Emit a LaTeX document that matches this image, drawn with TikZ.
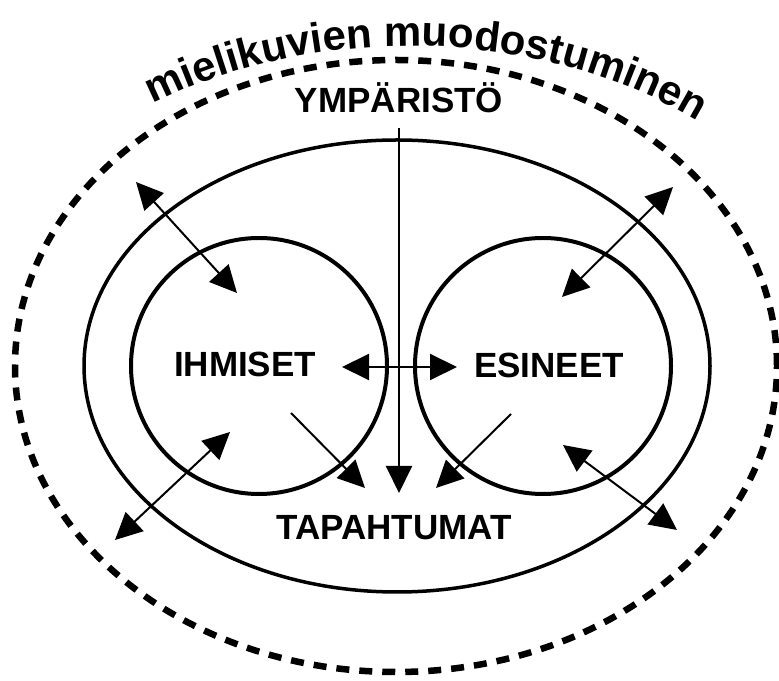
\documentclass[tikz,border=0pt]{standalone}
\usepackage{fontspec}
\setmainfont{Liberation Sans}
\usetikzlibrary{arrows.meta,positioning,shapes.geometric,decorations.text}
\newcommand{\wordfont}{\fontsize{35}{40}\selectfont\bfseries}
\newcommand{\arcfont}{\fontsize{42}{48}\selectfont\bfseries}
\tikzset{
  ring/.style={draw, circle, line width=4pt, inner sep=0pt, minimum size=256pt},
  envring/.style={draw, ellipse, line width=3.5pt, inner sep=0pt, minimum width=626pt, minimum height=452pt},
  dashring/.style={draw, ellipse, line width=6.5pt, dash pattern=on 13pt off 10pt, inner sep=0pt, minimum width=762pt, minimum height=612pt},
  word/.style={font=\wordfont, inner sep=0pt, anchor=base},
  oneway/.style={-{Triangle[length=27pt, width=26pt]}, line width=2pt},
  twoway/.style={{Triangle[length=27pt, width=26pt]}-{Triangle[length=27pt, width=26pt]}, line width=2pt}
}

\begin{document}
\begin{tikzpicture}[x=1pt, y=1pt]
  \useasboundingbox (0,0) rectangle (779,680);
  \node[dashring] (mieli) at (396,314) {};
  \node[envring] (ymp) at (397,314) {};
  \node[ring] (ihm) at (259,314) {};
  \node[ring] (esi) at (543,314) {};
  \path[decorate, decoration={text along path, text align=center,
    text={|\arcfont|mielikuvien muodostuminen}}]
    (410,312) ++(127:448 and 322) arc[start angle=127, end angle=48, x radius=448, y radius=322];
  \node[word] (ymptext) at (399,567) {YMPÄRISTÖ};
  \node[word] (ihmtext) at (245,303) {IHMISET};
  \node[word] (esitext) at (549,302) {ESINEET};
  \node[word] (taptext) at (394,140) {TAPAHTUMAT};
  % arrow ends
  \coordinate (top) at (399,552);
  \coordinate (mid) at (399,187);
  \coordinate (ihm-l) at (342,313);
  \coordinate (esi-r) at (457,313);
  \coordinate (ihm-ul) at (136,498);
  \coordinate (ihm-ui) at (237,387);
  \coordinate (ihm-li) at (230,248);
  \coordinate (ihm-lo) at (115,140);
  \coordinate (esi-uo) at (673,493);
  \coordinate (esi-ui) at (562,383);
  \coordinate (esi-li) at (563,235);
  \coordinate (esi-lo) at (677,150);
  \coordinate (ihm-s) at (291,267);
  \coordinate (ihm-t) at (365,192);
  \coordinate (esi-s) at (511,266);
  \coordinate (esi-t) at (436,192);
  \draw[oneway] (top) -- (mid);
  \draw[twoway] (ihm-l) -- (esi-r);
  \draw[twoway] (ihm-ul) -- (ihm-ui);
  \draw[twoway] (ihm-li) -- (ihm-lo);
  \draw[twoway] (esi-uo) -- (esi-ui);
  \draw[twoway] (esi-li) -- (esi-lo);
  \draw[oneway] (ihm-s) -- (ihm-t);
  \draw[oneway] (esi-s) -- (esi-t);
\end{tikzpicture}
\end{document}
